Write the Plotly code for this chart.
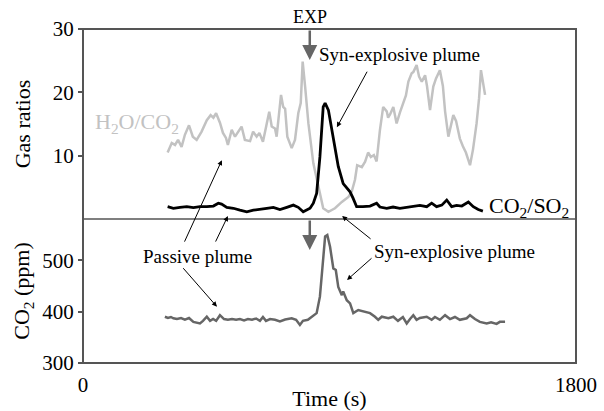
import plotly.graph_objects as go

# ---------------- data ----------------
# H2O/CO2 ratio (light grey line, upper panel)
h2o_co2_t = [309, 324, 336, 347, 360, 372, 387, 401, 415, 433,
             452, 466, 476, 486, 500, 511, 522, 529, 543, 555,
             567, 579, 591, 610, 621, 634, 644, 657, 671, 680,
             689, 701, 707, 723, 731, 738, 746, 762, 774, 786,
             795, 802, 811, 823, 841, 859, 877, 896, 920, 945,
             969, 981, 993, 1001, 1018, 1030, 1041, 1051, 1062, 1072,
             1084, 1096, 1109, 1114, 1121, 1133, 1145, 1157, 1169, 1179,
             1188, 1200, 1206, 1218, 1227, 1237, 1249, 1256, 1267, 1279,
             1289, 1303, 1314, 1322, 1334, 1346, 1352, 1362, 1376, 1387,
             1398, 1413, 1424, 1437, 1446, 1453, 1460, 1468]
h2o_co2_v = [10.5, 12.0, 11.7, 12.5, 11.4, 13.3, 14.8, 13.0, 12.5, 13.8,
             15.6, 16.4, 16.0, 16.7, 15.2, 13.6, 12.8, 11.7, 14.1, 13.0,
             13.8, 14.6, 12.5, 12.3, 13.8, 13.0, 13.6, 12.2, 15.1, 16.95,
             14.6, 14.3, 13.0, 19.6, 17.7, 17.4, 13.0, 11.2, 12.5, 16.7,
             18.3, 24.85, 20.9, 15.1, 8.8, 5.1, 1.7, 1.15, 1.7, 2.7,
             3.5, 4.3, 6.2, 8.5, 8.2, 9.05, 10.5, 9.8, 10.1, 9.1,
             14.0, 17.7, 17.0, 16.0, 16.5, 17.7, 15.1, 16.8, 18.3, 19.5,
             21.7, 23.0, 23.2, 24.3, 22.5, 21.7, 22.7, 21.0, 17.2, 20.9,
             22.2, 23.5, 21.0, 17.0, 13.0, 15.5, 16.4, 15.5, 12.7, 11.5,
             10.5, 8.5, 11.0, 15.1, 19.0, 23.5, 21.5, 19.6]

# CO2/SO2 ratio (black line, upper panel)
co2_so2_t = [309, 330, 354, 379, 403, 427, 452, 476, 494, 506,
             525, 549, 573, 598, 622, 646, 671, 695, 719, 744,
             768, 786, 804, 829, 841, 853, 865, 877, 884, 896,
             914, 932, 950, 975, 986, 999, 1022, 1048, 1072, 1084,
             1109, 1132, 1157, 1182, 1206, 1230, 1255, 1273, 1291, 1310,
             1328, 1346, 1364, 1383, 1407, 1425, 1443, 1460]
co2_so2_v = [1.95, 1.7, 1.85, 1.95, 1.8, 1.95, 1.95, 2.05, 2.5, 2.35,
             1.85, 1.7, 1.4, 1.15, 1.4, 1.5, 1.7, 1.85, 1.5, 1.85,
             2.2, 1.85, 1.15, 1.7, 2.5, 4.05, 9.8, 17.7, 18.3, 17.2,
             12.5, 8.3, 5.6, 4.3, 3.3, 1.95, 1.95, 2.05, 2.5, 1.9,
             1.7, 1.9, 1.7, 1.85, 1.95, 2.15, 1.95, 2.5, 1.95, 2.2,
             3.0, 1.95, 2.15, 2.05, 2.7, 1.95, 1.5, 1.26]

# CO2 concentration (dark grey line, lower panel)
co2_t = [299, 310, 321, 330, 343, 358, 372, 387, 403, 416,
         427, 438, 452, 464, 475, 486, 500, 515, 529, 544,
         559, 573, 588, 602, 617, 632, 646, 657, 668, 683,
         701, 719, 738, 762, 778, 792, 803, 821, 835, 853,
         865, 877, 884, 892, 902, 914, 923, 932, 945, 950,
         963, 975, 987, 1005, 1030, 1048, 1066, 1078, 1091, 1115,
         1133, 1150, 1168, 1182, 1194, 1206, 1218, 1230, 1255, 1273,
         1285, 1303, 1322, 1340, 1358, 1376, 1401, 1413, 1431, 1449,
         1474, 1490, 1510, 1522, 1541]
co2_ppm = [390, 387.5, 389.5, 387, 385.5, 387.5, 384.5, 387.5, 380, 378,
           377, 382, 390, 382, 385.5, 382, 393, 385.5, 384, 385.5,
           384, 385.5, 383, 385.5, 384, 386.5, 382, 389.5, 382, 385.5,
           384, 381, 384.5, 387, 384, 374, 382, 384, 390, 397,
           429, 513, 546, 549, 526, 484, 481, 448, 432, 439,
           422, 416, 397, 403, 400, 397, 390, 384, 390, 387,
           390, 382, 389.5, 377, 385.5, 393, 384, 387.5, 390, 384,
           389.5, 384, 393, 385.5, 389.5, 384, 387, 393, 385.5, 380,
           377, 379, 376, 380, 380]

x_ticks = [0, 1800]
top_ticks = [10, 20, 30]
bottom_ticks = [300, 400, 500]
exp_time = 828

# ---------------- figure ----------------
FONT = "Liberation Serif, Times New Roman, Times, serif"
AX = "#555555"
split = 0.431

fig = go.Figure()
fig.add_trace(go.Scatter(x=h2o_co2_t, y=h2o_co2_v, xaxis="x2", yaxis="y2", mode="lines",
                         line=dict(color="#c2c2c2", width=2.5), hoverinfo="skip"))
fig.add_trace(go.Scatter(x=co2_so2_t, y=co2_so2_v, xaxis="x2", yaxis="y2", mode="lines",
                         line=dict(color="#000000", width=2.8), hoverinfo="skip"))
fig.add_trace(go.Scatter(x=co2_t, y=co2_ppm, xaxis="x", yaxis="y", mode="lines",
                         line=dict(color="#666666", width=2.5), hoverinfo="skip"))

tickfont = dict(family=FONT, size=21, color="black")
titlefont = dict(family=FONT, size=22, color="black")

fig.update_layout(
    width=604, height=411,
    margin=dict(l=83, r=28, t=29, b=48, autoexpand=False),
    paper_bgcolor="white", plot_bgcolor="white",
    showlegend=False,
    font=dict(family=FONT, size=18, color="black"),
    xaxis=dict(domain=[0, 1], anchor="y", range=[0, 1800], tickvals=x_ticks,
               ticks="outside", ticklen=3, tickcolor="rgba(0,0,0,0)",
               showgrid=False, zeroline=False, showline=False, automargin=False,
               tickfont=tickfont,
               title=dict(text="Time (s)", font=titlefont, standoff=0)),
    xaxis2=dict(domain=[0, 1], anchor="y2", range=[0, 1800], matches="x", automargin=False,
                showticklabels=False, ticks="", showgrid=False, zeroline=False, showline=False),
    yaxis=dict(domain=[0, split], anchor="x", range=[300, 580], tickvals=bottom_ticks,
               ticks="outside", ticklen=4, tickwidth=1.5, tickcolor=AX, automargin=False,
               showgrid=False, zeroline=False, showline=False, tickfont=tickfont,
               title=dict(text="CO<sub>2</sub> (ppm)", font=titlefont, standoff=6)),
    yaxis2=dict(domain=[split, 1], anchor="x2", range=[0, 30], tickvals=top_ticks,
                ticks="outside", ticklen=4, tickwidth=1.5, tickcolor=AX, automargin=False,
                showgrid=False, zeroline=False, showline=False, tickfont=tickfont,
                title=dict(text="Gas ratios", font=titlefont, standoff=16)),
    shapes=[
        dict(type="rect", xref="paper", yref="paper", x0=0, y0=0, x1=1, y1=1,
             line=dict(color=AX, width=2)),
        dict(type="line", xref="paper", yref="paper", x0=0, y0=split, x1=1, y1=split,
             line=dict(color=AX, width=1.5)),
    ],
)

ann_font = dict(family=FONT, size=19, color="black")
anns = [
    # EXP
    dict(text="EXP", xref="x", yref="paper", x=exp_time, y=1.036, showarrow=False,
         font=dict(family=FONT, size=18, color="black"), yanchor="middle"),
    dict(text="", xref="x2", yref="y2", x=exp_time, y=25.1, ax=0, ay=-31,
         showarrow=True, arrowhead=2, arrowsize=1.2, arrowwidth=2.5, arrowcolor="#666666"),
    dict(text="", xref="x", yref="y", x=exp_time, y=520, ax=0, ay=-31,
         showarrow=True, arrowhead=2, arrowsize=1.2, arrowwidth=2.5, arrowcolor="#666666"),
    # series labels
    dict(text="H<sub>2</sub>O/CO<sub>2</sub>", xref="x2", yref="y2", x=36, y=15.2,
         xanchor="left", yanchor="middle", showarrow=False,
         font=dict(family=FONT, size=22, color="#c2c2c2")),
    dict(text="CO<sub>2</sub>/SO<sub>2</sub>", xref="x2", yref="y2", x=1475, y=1.9,
         xanchor="left", yanchor="middle", showarrow=False,
         font=dict(family=FONT, size=22, color="black")),
    # Syn-explosive plume (top)
    dict(text="Syn-explosive plume", xref="x2", yref="y2", x=1157, y=25.9,
         showarrow=False, font=ann_font),
    dict(text="", xref="x2", yref="y2", x=927, y=14.5, ax=31, ay=-57,
         showarrow=True, arrowhead=2, arrowsize=1, arrowwidth=1, arrowcolor="black"),
    # Passive plume
    dict(text="Passive plume", xref="x", yref="y", x=418, y=508,
         showarrow=False, font=ann_font),
    dict(text="", xref="x2", yref="y2", x=507, y=9.3, ax=-38, ay=83,
         showarrow=True, arrowhead=2, arrowsize=1, arrowwidth=1, arrowcolor="black"),
    dict(text="", xref="x2", yref="y2", x=529, y=0.47, ax=-13, ay=27,
         showarrow=True, arrowhead=2, arrowsize=1, arrowwidth=1, arrowcolor="black"),
    dict(text="", xref="x", yref="y", x=489, y=409.5, ax=-35, ay=-40,
         showarrow=True, arrowhead=2, arrowsize=1, arrowwidth=1, arrowcolor="black"),
    # Syn-explosive plume (bottom)
    dict(text="Syn-explosive plume", xref="x", yref="y", x=1358, y=516.5,
         showarrow=False, font=ann_font),
    dict(text="", xref="x2", yref="y2", x=946, y=0.47, ax=30, ay=24,
         showarrow=True, arrowhead=2, arrowsize=1, arrowwidth=1, arrowcolor="black"),
    dict(text="", xref="x", yref="y", x=964, y=461.5, ax=26, ay=-23,
         showarrow=True, arrowhead=2, arrowsize=1, arrowwidth=1, arrowcolor="black"),
]
fig.update_layout(annotations=anns)

fig.write_html("out.html")
